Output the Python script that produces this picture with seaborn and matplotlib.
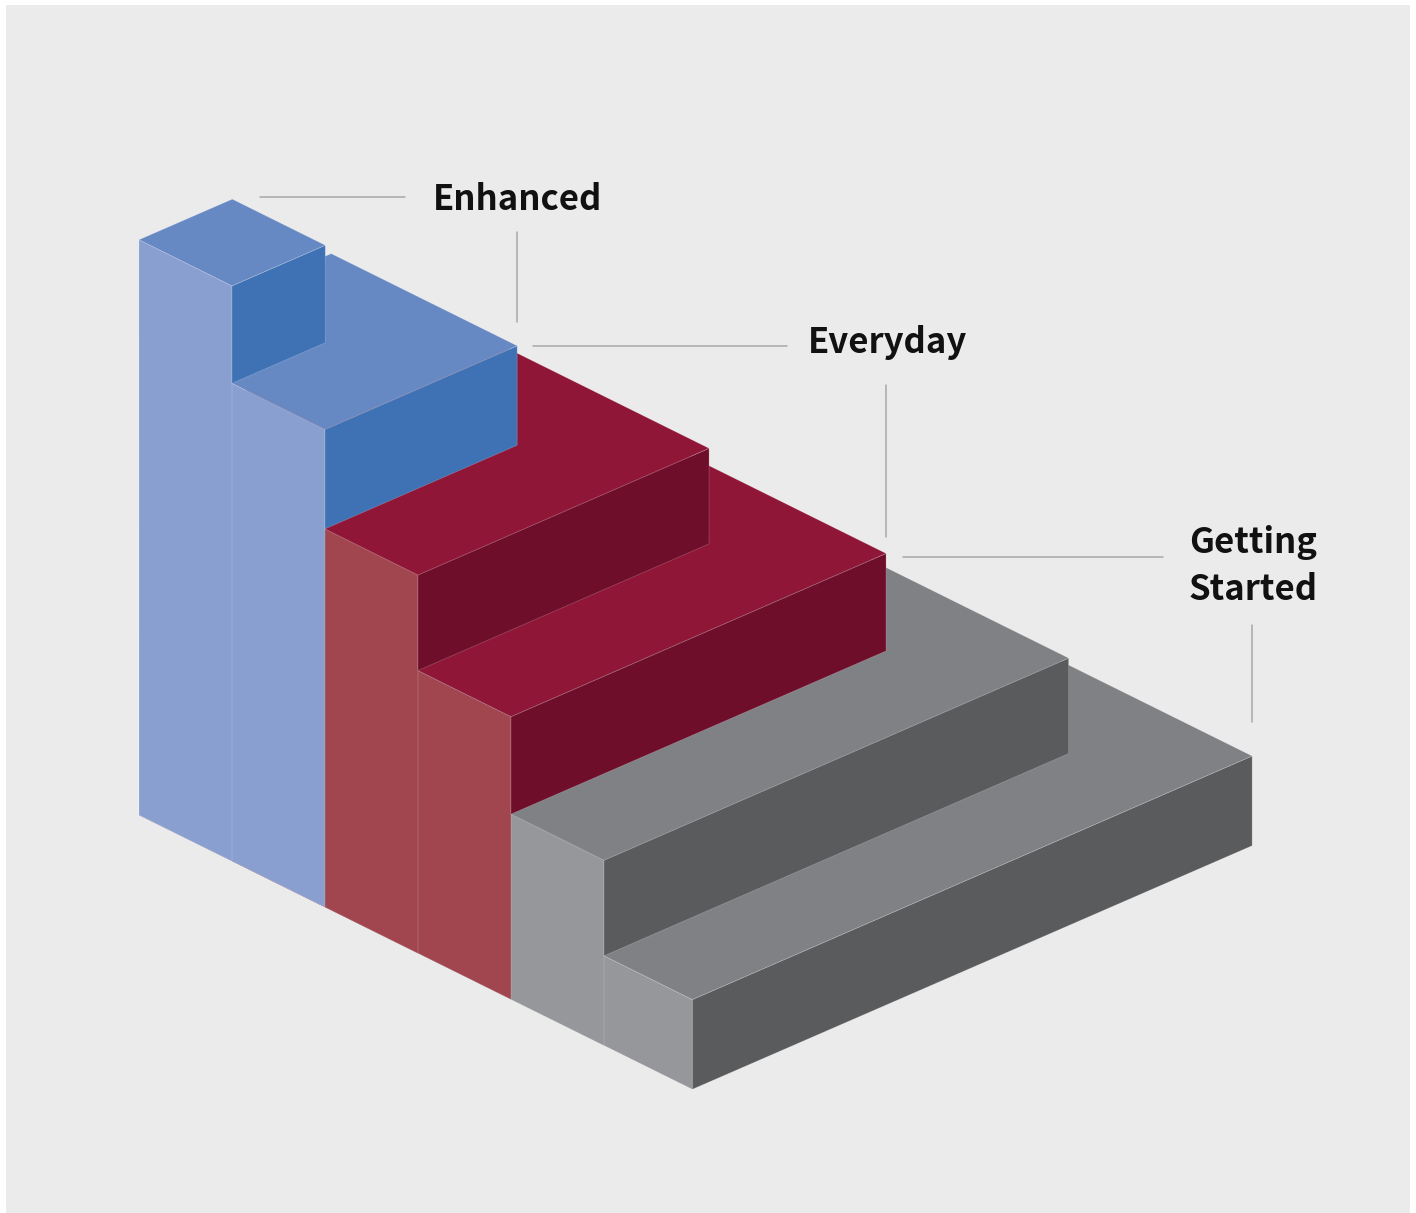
import matplotlib
matplotlib.use('Agg')
import matplotlib.pyplot as plt
import seaborn as sns
import pandas as pd
from matplotlib.patches import Polygon, Rectangle

# nested blocks, from the highest (back corner) to the lowest (widest)
levels = ['Enhanced', 'Enhanced', 'Everyday', 'Everyday', 'Getting Started', 'Getting Started']
heights = [5.9, 4.9, 3.88, 2.9, 1.9, 0.92]
widths = [1.0, 2.06, 3.12, 4.02, 4.98, 6.0]
depths = [1.0, 2.0, 3.0, 4.0, 5.0, 5.95]
label_texts = ['Enhanced', 'Everyday', 'Getting\nStarted']

top_colors = {'Enhanced': '#6689c3', 'Everyday': '#8f1636', 'Getting Started': '#808184'}
riser_colors = {'Enhanced': '#3f72b4', 'Everyday': '#6e0e2b', 'Getting Started': '#5a5b5d'}
side_colors = {'Enhanced': '#899fd0', 'Everyday': '#a1464e', 'Getting Started': '#96979b'}

steps = pd.DataFrame({'level': levels, 'height': heights, 'width': widths, 'depth': depths})
# the riser of each block only shows above the next (lower) block
steps['floor'] = steps['height'].shift(-1).fillna(0)

# oblique projection (pixels)
ORIGIN = (139, 815)
AX = (93.0, 46.1)
BX = (93.3, -40.6)
HZ = 97.5


def proj(u, v, w):
    return (ORIGIN[0] + AX[0] * u + BX[0] * v,
            ORIGIN[1] + AX[1] * u + BX[1] * v - HZ * w)


sns.set_theme(style='white')
plt.rcParams['font.family'] = ['Noto Sans CJK SC', 'DejaVu Sans']

fig = plt.figure(figsize=(14.16, 12.13), dpi=100)
fig.patch.set_facecolor('white')
ax = fig.add_axes([0, 0, 1, 1])
ax.set_xlim(0, 1416)
ax.set_ylim(1213, 0)
ax.axis('off')

ax.add_patch(Rectangle((6, 5), 1404, 1210, facecolor='#ebebeb', edgecolor='none', zorder=0))

# draw the widest block first so the taller ones sit on top of it
edge = (1, 1, 1, 0.2)
for _, s in steps.iloc[::-1].iterrows():
    D, W, h, f = s['depth'], s['width'], s['height'], s['floor']
    side = [proj(0, 0, 0), proj(D, 0, 0), proj(D, 0, h), proj(0, 0, h)]
    riser = [proj(D, 0, f), proj(D, W, f), proj(D, W, h), proj(D, 0, h)]
    top = [proj(0, 0, h), proj(D, 0, h), proj(D, W, h), proj(0, W, h)]
    for pts, col in [(side, side_colors[s['level']]),
                     (riser, riser_colors[s['level']]),
                     (top, top_colors[s['level']])]:
        ax.add_patch(Polygon(pts, closed=True, facecolor=col, edgecolor=edge,
                             linewidth=0.6, zorder=2))

# leader lines and labels
line_kw = dict(color='#a8a8a8', lw=1.1, zorder=3)
c0 = proj(0, widths[0], heights[0])
c1 = proj(depths[1], widths[1], heights[1])
c3 = proj(depths[3], widths[3], heights[3])
c5 = proj(depths[5], widths[5], heights[5])

ax.plot([c0[0] + 28, 405], [197, 197], **line_kw)
ax.plot([c1[0], c1[0]], [232, c1[1] - 24], **line_kw)
ax.plot([c1[0] + 16, 787], [c1[1], c1[1]], **line_kw)
ax.plot([c3[0], c3[0]], [385, c3[1] - 16], **line_kw)
ax.plot([c3[0] + 17, 1163], [557, 557], **line_kw)
ax.plot([c5[0], c5[0]], [625, c5[1] - 34], **line_kw)

text_kw = dict(fontsize=25, fontweight='bold', color='#111111', va='center', ha='left', zorder=4)
ax.text(433, 199, label_texts[0], **text_kw)
ax.text(808, 342, label_texts[1], **text_kw)
ax.text(1189, 566, label_texts[2], linespacing=1.42, **text_kw)

fig.savefig('out.png', dpi=100, facecolor=fig.get_facecolor())
